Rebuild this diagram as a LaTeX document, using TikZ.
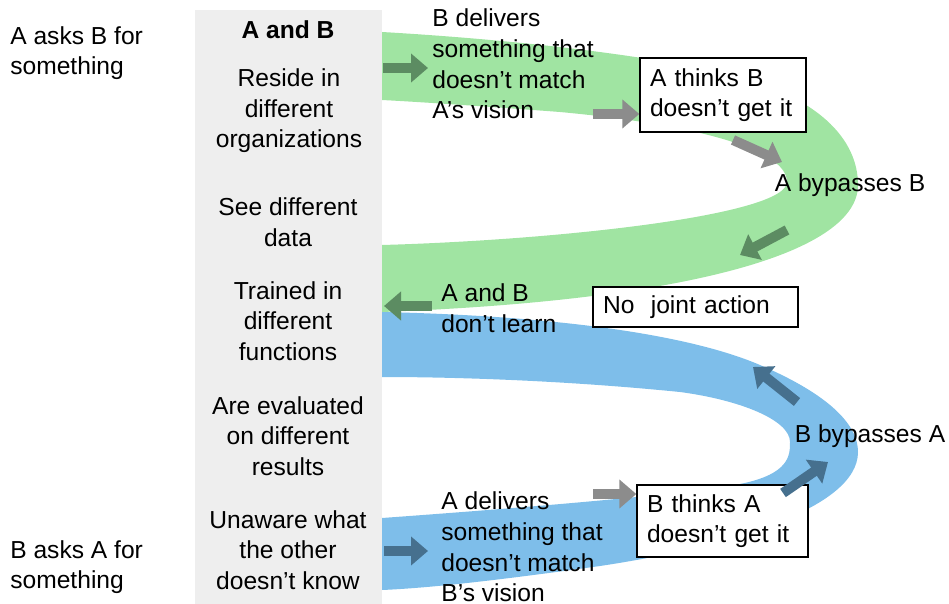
\documentclass[tikz,border=0pt]{standalone}
\usepackage{fontspec}
\setmainfont{Liberation Sans}
\usetikzlibrary{arrows.meta}
\definecolor{bandgreen}{RGB}{160,228,162}
\definecolor{bandblue}{RGB}{126,190,234}
\definecolor{panelgray}{RGB}{238,238,238}
\definecolor{arrowgreen}{RGB}{92,140,98}
\definecolor{arrowgray}{RGB}{140,140,140}
\definecolor{arrowblue}{RGB}{70,112,142}
\tikzset{
  basetext/.style={font=\fontsize{14}{17.4}\selectfont, inner sep=0pt},
  ctext/.style={basetext, align=center},
  ltext/.style={basetext, align=left, anchor=west},
  thinkbox/.style={draw, line width=0.8pt, fill=white, basetext, align=left, inner xsep=0.2cm, inner ysep=0pt},
  fatarrow/.style={line width=0.2cm, -{Triangle[length=0.34cm,width=0.56cm]}},
}

\begin{document}
\begin{tikzpicture}[x=0.02cm,y=-0.02cm]
\useasboundingbox (0,0) rectangle (949,604);

\fill[panelgray] (195,10) rectangle (382,604);

\fill[bandgreen] (382,32) .. controls (520,40) and (640,55) .. (720,72) .. controls (820,95) and (858,140) .. (858,185) .. controls (858,250) and (700,300) .. (382,312) -- (382,245) .. controls (560,240) and (787,215) .. (787,182) .. controls (787,150) and (700,125) .. (560,112) .. controls (480,106) and (420,102) .. (382,100) -- cycle;
\fill[bandblue] (382,312) .. controls (560,316) and (690,335) .. (760,365) .. controls (830,395) and (858,425) .. (858,452) .. controls (858,510) and (720,548) .. (600,566) .. controls (500,580) and (430,588) .. (382,590) -- (382,518) .. controls (520,508) and (680,495) .. (740,484) .. controls (790,474) and (790,455) .. (790,442) .. controls (790,420) and (740,400) .. (680,392) .. controls (560,380) and (450,377) .. (382,377) -- cycle;

\node[ltext] (asksb) at (10,53) {A asks B for\\something};
\node[ltext] (asksa) at (10,567) {B asks A for\\something};

\node[ctext] (title) at (288,30) {\bfseries A and B};
\node[ctext] (reside) at (289,111) {Reside in\\different\\organizations};
\node[ctext] (data) at (288,222) {See different\\data};
\node[ctext] (trained) at (288,321) {Trained in\\different\\functions};
\node[ctext] (evaluated) at (288,436) {Are evaluated\\on different\\results};
\node[ctext] (unaware) at (288,550) {Unaware what\\the other\\doesn't know};

\node[ltext] (bdeliv) at (432,64) {B delivers\\something that\\doesn't match\\A's vision};
\node[ltext] (nolearn) at (441,308) {A and B\\don't learn};
\node[ltext] (adeliv) at (441,547) {A delivers\\something that\\doesn't match\\B's vision};
\node[basetext] (abypass) at (850,185) {A bypasses B};
\node[basetext] (bbypass) at (870,436) {B bypasses A};

\node[thinkbox, text width=2.92cm, minimum height=1.48cm] (athink) at (723,95) {A thinks B\\doesn't get it};
\node[thinkbox, text width=3.7cm, minimum height=0.8cm] (nojoint) at (695.5,307) {No\ \ joint action};
\node[thinkbox, text width=3.02cm, minimum height=1.44cm] (bthink) at (722.5,521) {B thinks A\\doesn't get it};

\coordinate (gstart) at (383,68);
\coordinate (gend) at (428,68);
\coordinate (gray1) at (593,114);
\coordinate (gray2a) at (733,140);
\coordinate (gray2b) at (782,162);
\coordinate (gback1) at (787,230);
\coordinate (gback2) at (740,255);
\coordinate (learn1) at (432,306);
\coordinate (learn2) at (384,306);
\coordinate (bup1) at (797,402);
\coordinate (bup2) at (753,367);
\coordinate (gray3) at (593,494);
\coordinate (bout1) at (783,493);
\coordinate (bout2) at (828,462);
\coordinate (bstart) at (384,551);
\coordinate (bend) at (428,551);

\draw[fatarrow, arrowgreen] (gstart) -- (gend);
\draw[fatarrow, arrowgray] (gray1) -- (gray1 -| athink.west);
\draw[fatarrow, arrowgray] (gray2a) -- (gray2b);
\draw[fatarrow, arrowgreen] (gback1) -- (gback2);
\draw[fatarrow, arrowgreen] (learn1) -- (learn2);
\draw[fatarrow, arrowblue] (bup1) -- (bup2);
\draw[fatarrow, arrowgray] (gray3) -- (gray3 -| bthink.west);
\draw[fatarrow, arrowblue] (bout1) -- (bout2);
\draw[fatarrow, arrowblue] (bstart) -- (bend);
\end{tikzpicture}
\end{document}
